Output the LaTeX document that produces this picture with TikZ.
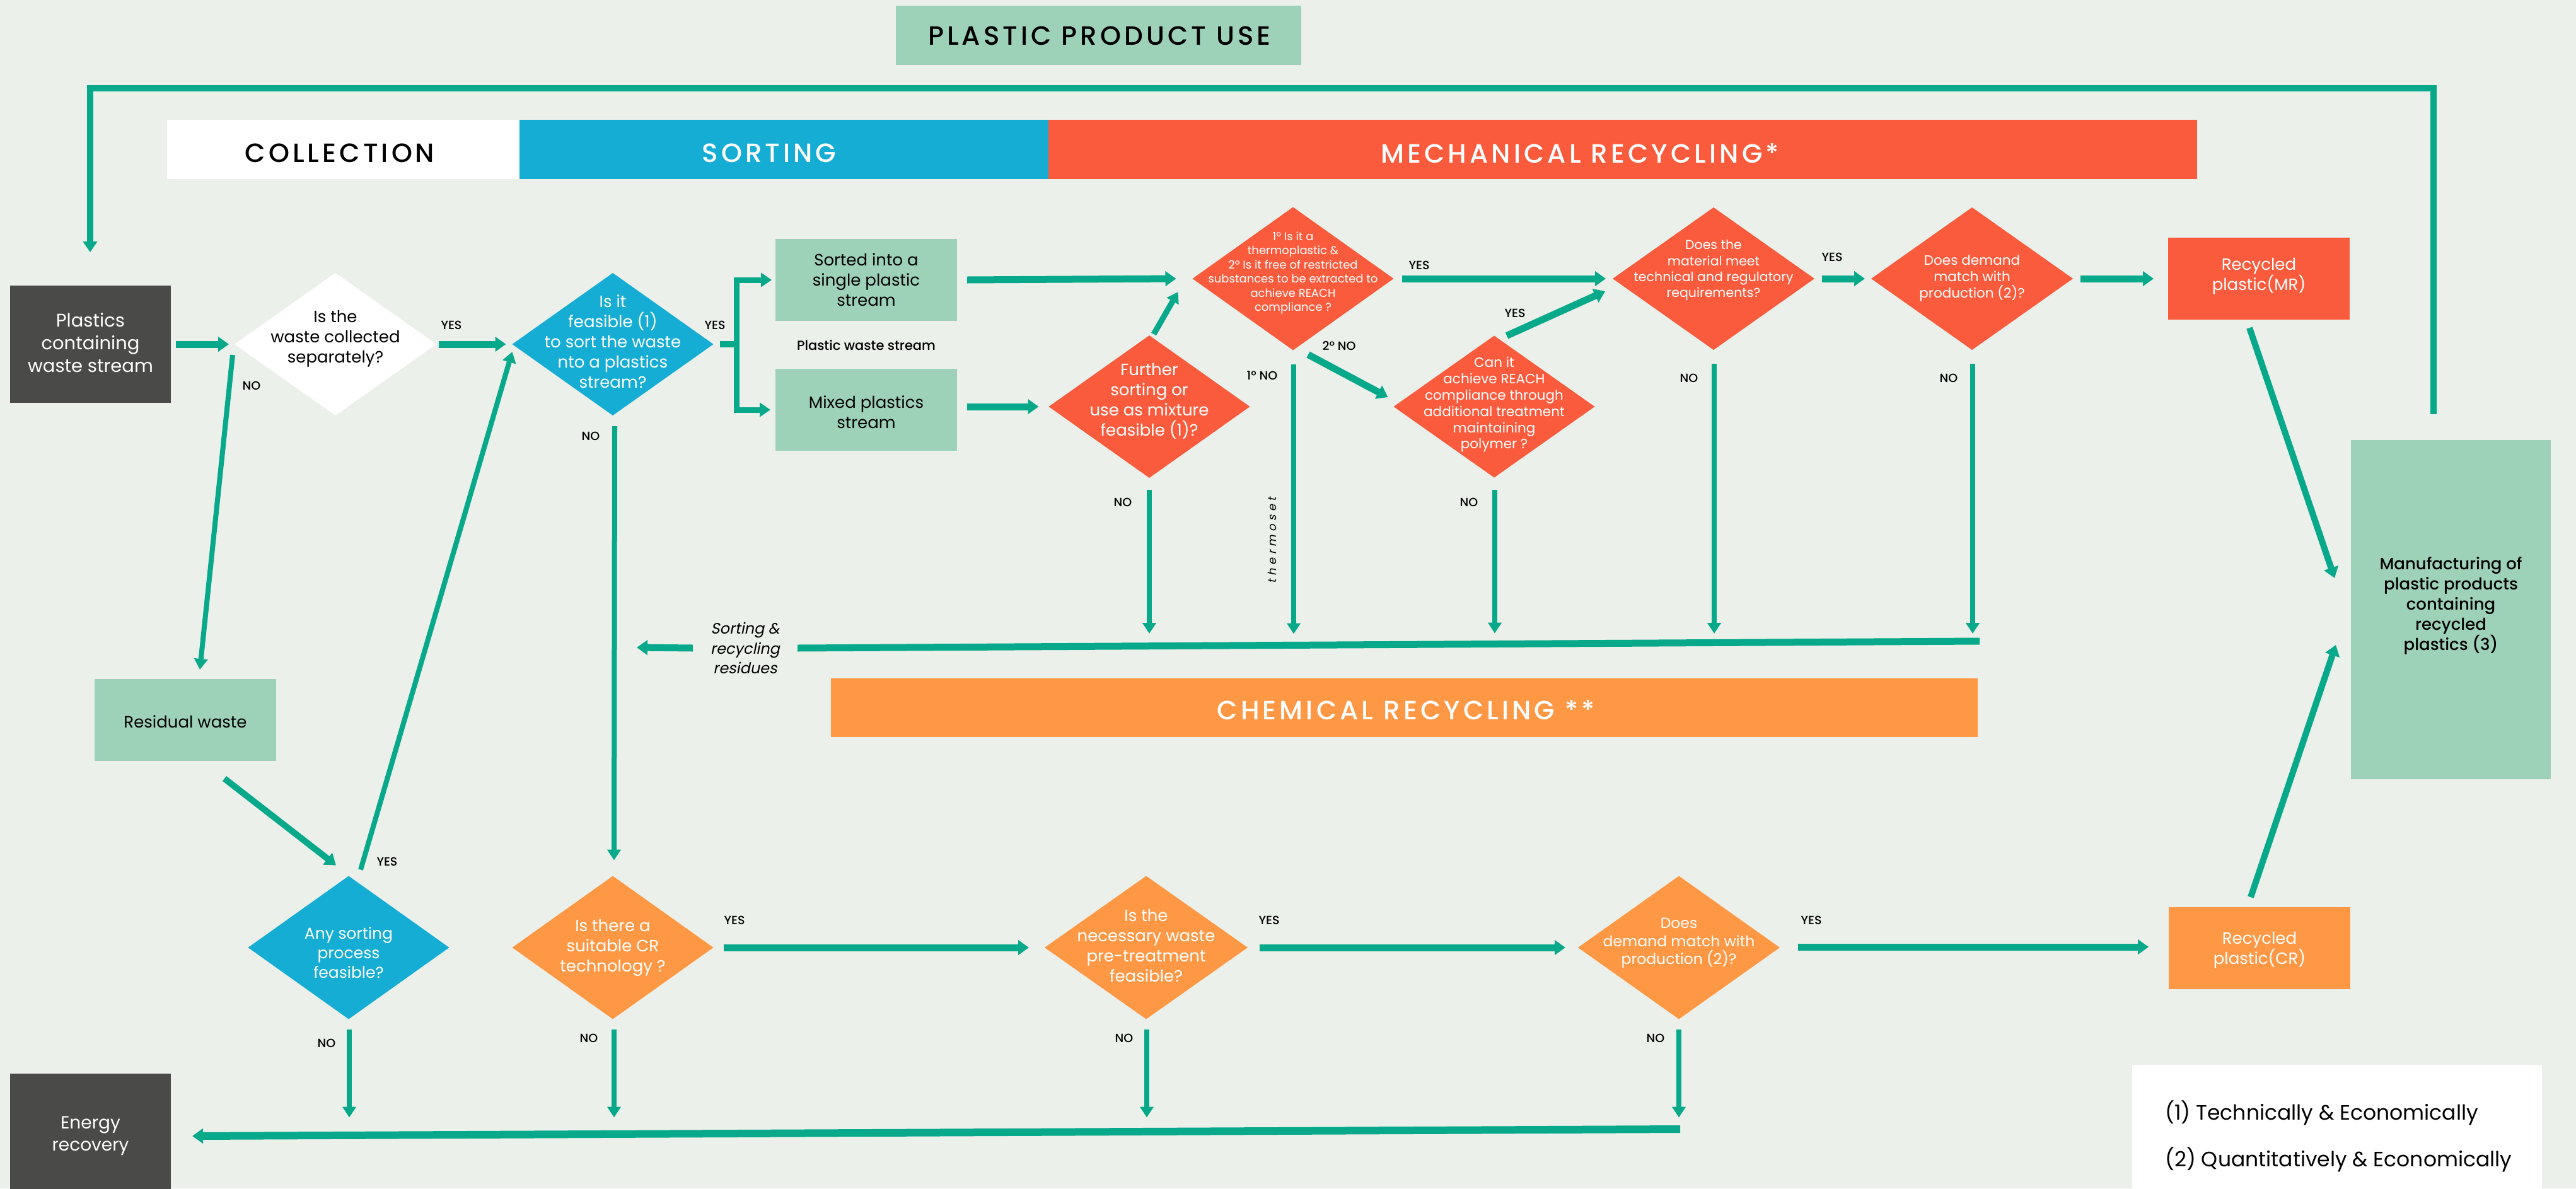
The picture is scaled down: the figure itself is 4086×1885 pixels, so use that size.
\documentclass[tikz,border=0pt]{standalone}
\usepackage{fontspec}
\setmainfont{Poppins}
\IfFontExistsTF{Poppins Medium}{\newfontfamily\medfont{Poppins Medium}\newfontfamily\hdrfont[LetterSpace=12]{Poppins Medium}}{\newfontfamily\medfont[FakeBold=0.4]{Poppins}\newfontfamily\hdrfont[LetterSpace=12,FakeBold=0.4]{Poppins}}
\newfontfamily\slfont[FakeSlant=0.2]{Poppins}
\newfontfamily\thfont[FakeSlant=0.2,LetterSpace=30]{Poppins}
\usetikzlibrary{shapes.geometric,arrows.meta,calc}
\definecolor{bg}{HTML}{EBF0EA}
\definecolor{ag}{HTML}{07A98A}
\definecolor{lg}{HTML}{9DD2B9}
\definecolor{bl}{HTML}{15ADD4}
\definecolor{rd}{HTML}{FA5B3D}
\definecolor{orng}{HTML}{FF9845}
\definecolor{dk}{HTML}{4A4A49}
\begin{document}
\begin{tikzpicture}[x=1pt,y=-1pt,
  box/.style={rectangle,inner sep=0pt,outer sep=0pt,draw=none},
  dia/.style={diamond,inner sep=0pt,outer sep=0pt,draw=none},
  txt/.style={inner sep=0pt,align=center,font=\fontsize{26}{32}\selectfont},
  wtxt/.style={txt,text=white},
  lab/.style={inner sep=0pt,font=\medfont\fontsize{19}{23}\selectfont},
  arr/.style={draw=ag,line width=11pt,-{Triangle[length=17pt,width=23pt]}},
  tarr/.style={draw=ag,line width=8pt,-{Triangle[length=17pt,width=21pt]}},
  plain/.style={draw=ag,line width=10pt},
  hdr/.style={inner sep=0pt,font=\hdrfont\fontsize{42}{50}\selectfont},
]
\fill[bg] (0,0) rectangle (4086,1885);
\useasboundingbox (0,0) rectangle (4086,1885);

% ---------- header bands ----------
\node[box,fill=lg,minimum width=643pt,minimum height=94pt] (ppu) at (1742.5,56) {};
\node[hdr] (ppuT) at (1744,56.5) {PLASTIC PRODUCT USE};
\node[box,fill=white,minimum width=559pt,minimum height=94pt] (colb) at (544.5,237) {};
\node[hdr] (colT) at (539,243) {COLLECTION};
\node[box,fill=bl,minimum width=839pt,minimum height=94pt] (sortb) at (1243.5,237) {};
\node[hdr,text=white] (sortT) at (1220,243) {SORTING};
\node[box,fill=rd,minimum width=1822pt,minimum height=94pt] (mechb) at (2574,237) {};
\node[hdr,text=white] (mechT) at (2506,243) {MECHANICAL RECYCLING*};
\node[box,fill=orng,minimum width=1819pt,minimum height=93pt] (chemb) at (2227.5,1122.5) {};
\node[hdr,text=white] (chemT) at (2230,1126) {CHEMICAL RECYCLING **};

% ---------- boxes ----------
\node[box,fill=dk,minimum width=255pt,minimum height=186pt] (pcw) at (143.5,546) {};
\node[wtxt,font=\fontsize{29}{36}\selectfont] (pcwT) at (143.5,544) {Plastics\\containing\\waste stream};
\node[box,fill=lg,minimum width=288pt,minimum height=130pt] (sorted) at (1374,444) {};
\node[txt] (sortedT) at (1374,444) {Sorted into a\\single plastic\\stream};
\node[box,fill=lg,minimum width=288pt,minimum height=130pt] (mixed) at (1374,650) {};
\node[txt] (mixedT) at (1374,654) {Mixed plastics\\stream};
\node[box,fill=rd,minimum width=288pt,minimum height=130pt] (mr) at (3583,442) {};
\node[wtxt] (mrT) at (3583,438) {Recycled\\plastic(MR)};
\node[box,fill=lg,minimum width=317pt,minimum height=538pt] (manu) at (3887.5,967) {};
\node[txt,font=\medfont\fontsize{26}{32}\selectfont] (manuT) at (3887.5,961) {Manufacturing of\\plastic products\\containing\\recycled\\plastics (3)};
\node[box,fill=lg,minimum width=288pt,minimum height=130pt] (resw) at (294,1142) {};
\node[txt] (reswT) at (294,1145) {Residual waste};
\node[box,fill=orng,minimum width=288pt,minimum height=130pt] (cr) at (3584,1504) {};
\node[wtxt] (crT) at (3584,1507) {Recycled\\plastic(CR)};
\node[box,fill=dk,minimum width=255pt,minimum height=184pt] (energy) at (143.5,1795) {};
\node[wtxt,font=\fontsize{28}{35}\selectfont] (energyT) at (143.5,1802) {Energy\\recovery};
\node[box,fill=white,minimum width=650pt,minimum height=196pt] (legend) at (3707,1787) {};
\node[inner sep=0pt,anchor=west,font=\fontsize{33}{38}\selectfont] (leg1) at (3434,1765) {(1) Technically \& Economically};
\node[inner sep=0pt,anchor=west,font=\fontsize{33}{38}\selectfont] (leg2) at (3434,1839) {(2) Quantitatively \& Economically};

% ---------- diamonds ----------
\node[dia,fill=white,minimum width=320pt,minimum height=226pt] (d1) at (532,546) {};
\node[txt] (d1T) at (532,537) {Is the\\waste collected\\separately?};
\node[dia,fill=bl,minimum width=319pt,minimum height=226pt] (d2) at (972,546) {};
\node[wtxt] (d2T) at (972,542) {Is it\\feasible (1)\\to sort the waste\\nto a plastics\\stream?};
\node[dia,fill=rd,minimum width=319pt,minimum height=227pt] (d3) at (2051,442) {};
\node[wtxt,font=\fontsize{18}{22.4}\selectfont] (d3T) at (2051,433) {1º Is it a\\thermoplastic \&\\2º Is it free of restricted\\substances to be extracted to\\achieve REACH\\compliance ?};
\node[dia,fill=rd,minimum width=319pt,minimum height=226pt] (d4) at (1823,645) {};
\node[wtxt] (d4T) at (1823,636) {Further\\sorting or\\use as mixture\\feasible (1)?};
\node[dia,fill=rd,minimum width=319pt,minimum height=225pt] (d5) at (2370,645) {};
\node[wtxt,font=\fontsize{21.5}{25.8}\selectfont] (d5T) at (2370,642) {Can it\\achieve REACH\\compliance through\\additional treatment\\maintaining\\polymer ?};
\node[dia,fill=rd,minimum width=320pt,minimum height=226pt] (d6) at (2718,442) {};
\node[wtxt,font=\fontsize{20.5}{25.3}\selectfont] (d6T) at (2718,429) {Does the\\material meet\\technical and regulatory\\requirements?};
\node[dia,fill=rd,minimum width=320pt,minimum height=226pt] (d7) at (3128,442) {};
\node[wtxt,font=\fontsize{21.5}{26}\selectfont] (d7T) at (3128,441) {Does demand\\match with\\production (2)?};
\node[dia,fill=bl,minimum width=319pt,minimum height=227pt] (dany) at (553,1503) {};
\node[wtxt,font=\fontsize{25}{31}\selectfont] (danyT) at (553,1511) {Any sorting\\process\\feasible?};
\node[dia,fill=orng,minimum width=319pt,minimum height=227pt] (dcr) at (972,1503) {};
\node[wtxt] (dcrT) at (972,1503) {Is there a\\suitable CR\\technology ?};
\node[dia,fill=orng,minimum width=322pt,minimum height=227pt] (dpre) at (1818,1503) {};
\node[wtxt] (dpreT) at (1818,1500) {Is the\\necessary waste\\pre-treatment\\feasible?};
\node[dia,fill=orng,minimum width=320pt,minimum height=227pt] (ddem) at (2663,1503) {};
\node[wtxt,font=\fontsize{23.5}{28.5}\selectfont] (ddemT) at (2663,1496) {Does\\demand match with\\production (2)?};

% ---------- labels ----------
\node[lab] (y1) at (716,516) {YES};
\node[lab] (y2) at (1134,516) {YES};
\node[lab] (n1) at (399,612) {NO};
\node[lab] (n2) at (937,692) {NO};
\node[lab,font=\medfont\fontsize{21}{25}\selectfont] (pws) at (1374,548) {Plastic waste stream};
\node[lab] (n4) at (1781,797) {NO};
\node[lab] (n31) at (2002,596) {1º NO};
\node[lab] (n32) at (2124,548) {2º NO};
\node[lab] (y3) at (2251,421) {YES};
\node[lab] (y5) at (2403,497) {YES};
\node[lab] (n5) at (2330,797) {NO};
\node[lab] (n6) at (2679,600) {NO};
\node[lab] (y6) at (2906,408) {YES};
\node[lab] (n7) at (3091,600) {NO};
\node[inner sep=0pt,rotate=90,font=\thfont\fontsize{18}{22}\selectfont] (thermo) at (2018,857) {thermoset};
\node[lab] (ya) at (614,1367) {YES};
\node[lab] (na) at (518,1655) {NO};
\node[lab] (ncr) at (934,1647) {NO};
\node[lab] (ycr) at (1165,1460) {YES};
\node[lab] (npre) at (1783,1647) {NO};
\node[lab] (ypre) at (2013,1460) {YES};
\node[lab] (ndem) at (2626,1647) {NO};
\node[lab] (ydem) at (2873,1460) {YES};
\node[inner sep=0pt,inner xsep=28pt,align=center,font=\slfont\fontsize{24}{31.5}\selectfont] (resid) at (1182,1028) {Sorting \&\\recycling\\residues};

% ---------- coordinates for free ends ----------
\coordinate (lp1) at (3860,657);
\coordinate (lp2) at (143,140);
\coordinate (lp3) at (143,400);
\coordinate (split) at (1168,546);
\coordinate (colR) at (3140,1017);
\coordinate (colL) at (1010,1027);
\coordinate (colB) at (2665,1791);

% ---------- connectors ----------
\draw[plain,-{Triangle[length=17pt,width=22pt]}] (lp1) |- (lp2) -- (lp3);
\draw[arr] ($(pcw.east)+(8,0)$) -- ($(d1.west)+(-9,0)$);
\draw[arr] ($(d1.east)+(4,0)$) -- ($(d2.west)+(-10,0)$);
\draw[plain] ($(d2.east)+(10,0)$) -- (split);
\draw[plain,line width=9pt,-{Triangle[length=17pt,width=22pt]}] ($(split)+(0,4.5)$) |- ($(sorted.west)+(-6,0)$);
\draw[plain,line width=9pt,-{Triangle[length=17pt,width=22pt]}] ($(split)+(0,-4.5)$) |- ($(mixed.west)+(-8,0)$);
\draw[arr] ($(sorted.east)+(16,0)$) -- ($(d3.west)+(-26,0)$);
\draw[arr] ($(mixed.east)+(16,-5)$) -- ($(d4.west)+(-16,0)$);
\draw[tarr,line width=9pt] ($(d4.north)+(7,-2)$) -- ($(d3.west)+(-23,21)$);
\draw[arr] ($(d3.east)+(13,0)$) -- ($(d6.west)+(-11,0)$);
\draw[arr] ($(d3.south)+(24,7)$) -- ($(d5.west)+(-9,-15)$);
\draw[arr] ($(d5.north)+(20,0)$) -- ($(d6.west)+(-12,20)$);
\draw[arr] ($(d6.east)+(12,0)$) -- ($(d7.west)+(-10,0)$);
\draw[arr] ($(d7.east)+(12,0)$) -- ($(mr.west)+(-23,0)$);
\draw[arr,line width=10pt] ($(mr.south)+(-15,13)$) -- ($(manu.west)+(-26,-50)$);
\draw[arr,line width=10pt] ($(cr.north)+(-14,-16)$) -- ($(manu.west)+(-24,56)$);
% drops into the residue collector
\draw[tarr] ($(d4.south)+(0,19)$) -- ($(d4.south)+(0,247)$);
\draw[tarr] ($(d3.south)+(1,22)$) -- ($(d3.south)+(1,450)$);
\draw[tarr] ($(d5.south)+(1,19)$) -- ($(d5.south)+(1,247)$);
\draw[tarr] ($(d6.south)+(1,22)$) -- ($(d6.south)+(1,450)$);
\draw[tarr] ($(d7.south)+(1,22)$) -- ($(d7.south)+(1,450)$);
\draw[plain,line width=11pt] (colR) -- (resid.east);
\draw[arr] (resid.west) -- (colL);
% collection / sorting
\draw[tarr] ($(d1.west)+(-3,17)$) -- ($(resw.north)+(23,-15)$);
\draw[tarr] ($(d2.south)+(3,17)$) -- ($(dcr.north)+(2,-25)$);
\draw[arr,line width=10pt] ($(resw.south)+(62,28)$) -- ($(dany.north)+(-20,-17)$);
\draw[tarr] ($(dany.north)+(19,-10)$) -- ($(d2.west)+(0,12)$);
% chemical recycling
\draw[tarr] ($(dany.south)+(1,16)$) -- ($(dany.south)+(1,156)$);
\draw[tarr] ($(dcr.south)+(2,16)$) -- ($(dcr.south)+(2,156)$);
\draw[arr] ($(dcr.east)+(16,0)$) -- ($(dpre.west)+(-25,0)$);
\draw[arr] ($(dpre.east)+(19,0)$) -- ($(ddem.west)+(-20,0)$);
\draw[tarr] ($(dpre.south)+(1,16)$) -- ($(dpre.south)+(1,156)$);
\draw[tarr] ($(ddem.south)+(0,16)$) -- ($(ddem.south)+(0,156)$);
\draw[arr] ($(ddem.east)+(29,-1)$) -- ($(cr.west)+(-32,-2)$);
\draw[arr,line width=12pt] (colB) -- ($(energy.east)+(34,7)$);
\end{tikzpicture}
\end{document}
